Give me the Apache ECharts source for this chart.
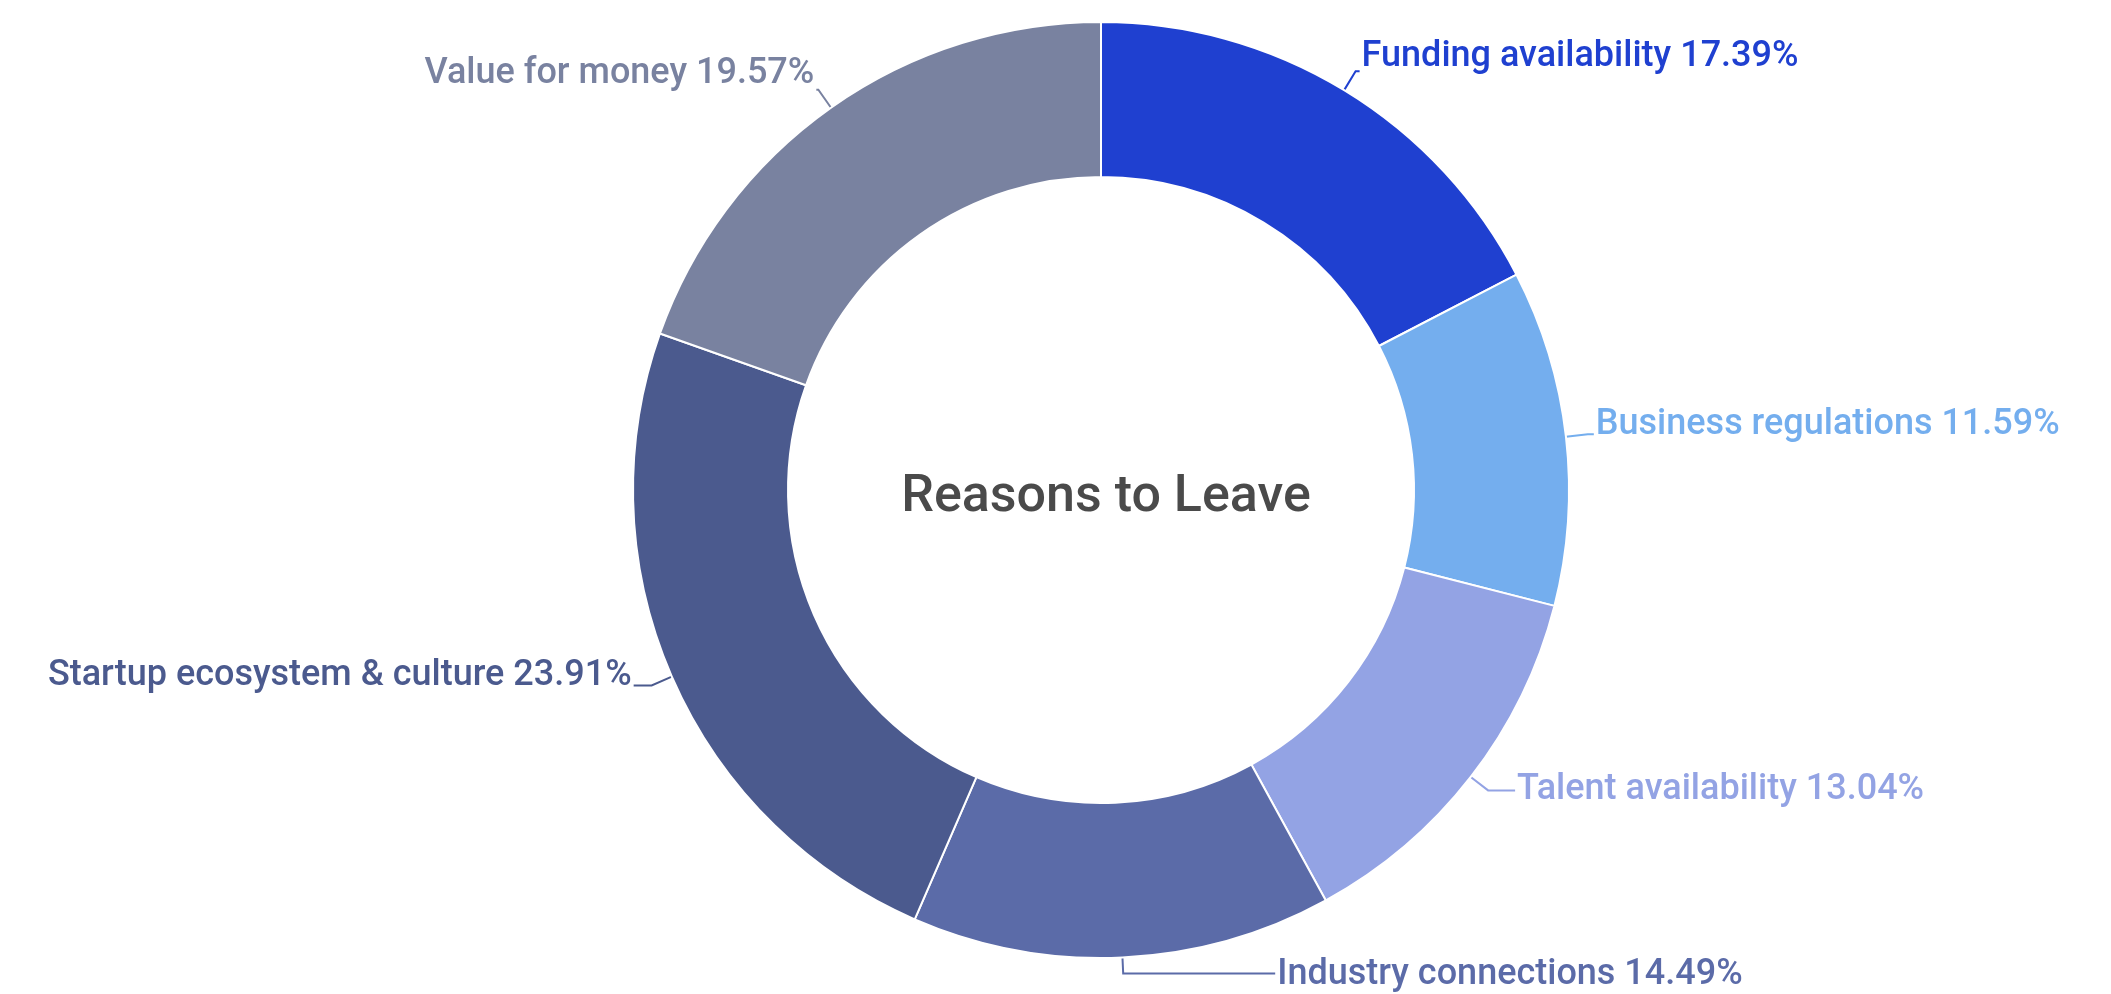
<!DOCTYPE html>
<html><head><meta charset="utf-8">
<script src="https://cdn.jsdelivr.net/npm/echarts@6/dist/echarts.min.js"></script>
<style>html,body{margin:0;padding:0;background:#fff}#c{width:2111px;height:994px}</style>
</head><body><div id="c"></div>
<script>
const categories = ["Funding availability","Business regulations","Talent availability","Industry connections","Startup ecosystem & culture","Value for money"];
const values = [17.39, 11.59, 13.04, 14.49, 23.91, 19.57];
const colors = ["#1f40d0","#74aeee","#93a3e4","#5b6ba8","#4b5a8e","#7982a0"];
const centerTitle = "Reasons to Leave";
// per-label tweaks: [labelLine length, length2, vertical shift]
const labelTweaks = [[22,4,-14],[22,6,-9],[22,27,0],[16,152,2],[22,18,-9],[22,2,-16]];

const chart = echarts.init(document.getElementById('c'), null, {renderer:'canvas'});
chart.setOption({
  animation:false,
  title:{text:centerTitle,left:1101,top:493,textAlign:'center',textVerticalAlign:'middle',
    textStyle:{fontFamily:'Roboto',fontSize:52,fontWeight:500,color:'#4a4a4a'}},
  series:[{
    type:'pie',
    center:[1101,490],
    radius:[313,468],
    startAngle:90,
    clockwise:true,
    avoidLabelOverlap:true,
    itemStyle:{borderColor:'#fff',borderWidth:2},
    label:{show:true,formatter:'{b} {c}%',fontFamily:'Roboto',fontSize:36,fontWeight:500,color:'inherit',distanceToLabelLine:2},
    labelLine:{show:true,length:22,length2:8,lineStyle:{width:2}},
    labelLayout:function(p){ return {dy: labelTweaks[p.dataIndex][2]}; },
    data:categories.map((n,i)=>({name:n,value:values[i],itemStyle:{color:colors[i]},
      label:{color:colors[i]},
      labelLine:{length:labelTweaks[i][0],length2:labelTweaks[i][1],lineStyle:{color:colors[i]}}}))
  }]
});
</script></body></html>
